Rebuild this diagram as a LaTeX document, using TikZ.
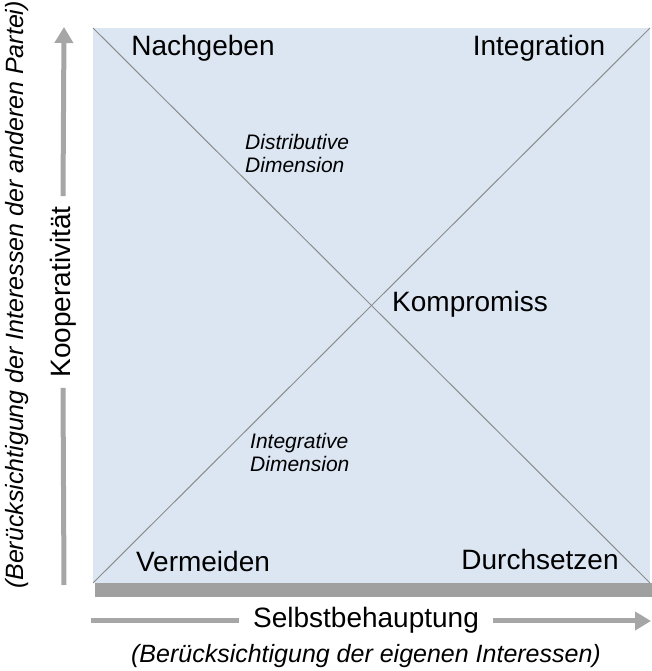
\documentclass[tikz,border=0pt]{standalone}
\usepackage{fontspec}
\setmainfont{Liberation Sans}
\usetikzlibrary{arrows.meta}

\definecolor{feld}{HTML}{DCE6F2}
\definecolor{achse}{HTML}{A6A6A6}
\definecolor{schatten}{HTML}{A0A0A0}
\definecolor{diag}{HTML}{8C8C8C}

\tikzset{
  stil/.style={font=\fontsize{28}{32}\selectfont, inner sep=0pt},
  dimension/.style={font=\fontsize{21}{23}\selectfont\itshape, align=left, inner sep=0pt},
  erklaerung/.style={font=\fontsize{25}{28}\selectfont\itshape, inner sep=0pt},
  pfeil/.style={achse, line width=5pt},
}

\begin{document}
\begin{tikzpicture}[x=1pt, y=1pt, line join=round]
        \useasboundingbox (0,0) rectangle (652,671);

        % Ecken des Feldes
        \coordinate (A) at (93, 88);
        \coordinate (B) at (650, 88);
        \coordinate (C) at (650, 643);
        \coordinate (D) at (93, 643);

        % Schatten und Feld
        \fill[schatten] (95, 74) rectangle (652, 88);
        \fill[feld] (A) rectangle (C);

        % Diagonalen
        \draw[diag, line width=1pt] (A) -- (C);
        \draw[diag, line width=1pt] (B) -- (D);

        % Konfliktstile in den Ecken
        \node[stil, anchor=base] (nachgeben) at (203, 615) {Nachgeben};
        \node[stil, anchor=base] (integration) at (539, 615) {Integration};
        \node[stil, anchor=base west] (kompromiss) at (392, 359) {Kompromiss};
        \node[stil, anchor=base] (vermeiden) at (203, 99) {Vermeiden};
        \node[stil, anchor=base] (durchsetzen) at (540, 101) {Durchsetzen};

        % Dimensionen
        \node[dimension, anchor=north west] (distributiv) at (245, 537) {Distributive\\Dimension};
        \node[dimension, anchor=north west] (integrativ) at (250, 238) {Integrative\\Dimension};

        % Achse Kooperativität
        \coordinate (yunten) at (64, 86);
        \coordinate (yoben) at (64, 644);
        \node[stil, rotate=90, inner xsep=10pt] (koop) at (63, 379) {Kooperativität};
        \draw[pfeil] (yunten) -- (koop.west);
        \draw[pfeil, -{Triangle[length=16pt, width=18pt]}] (koop.east) -- (yoben);
        \node[erklaerung, rotate=90] (koopinfo) at (17, 376) {(Berücksichtigung der Interessen der anderen Partei)};

        % Achse Selbstbehauptung
        \coordinate (xlinks) at (91, 50);
        \coordinate (xrechts) at (651, 50);
        \node[stil, anchor=base, inner xsep=14pt] (selbst) at (366, 43) {Selbstbehauptung};
        \draw[pfeil] (xlinks) -- (xlinks -| selbst.west);
        \draw[pfeil, -{Triangle[length=16pt, width=18pt]}] (xrechts -| selbst.east) -- (xrechts);
        \node[erklaerung, anchor=base] (selbstinfo) at (366, 9) {(Berücksichtigung der eigenen Interessen)};
\end{tikzpicture}
\end{document}
